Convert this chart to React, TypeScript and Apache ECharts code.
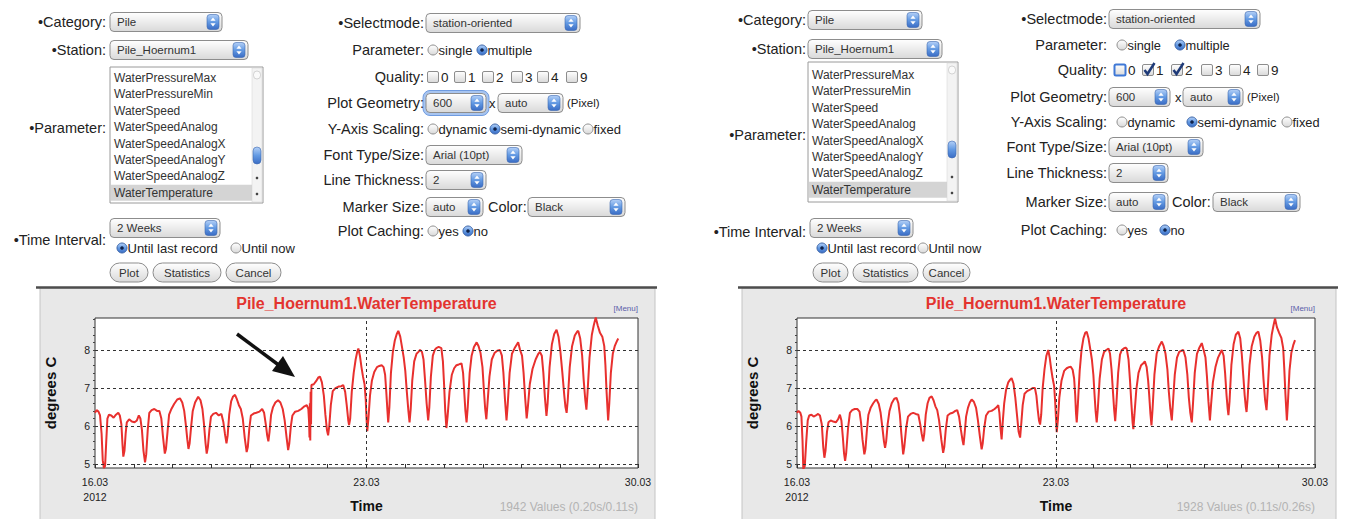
import React, { useEffect, useRef } from 'react';
import * as echarts from 'echarts';

const FONT = '"Liberation Sans", Arial, Helvetica, sans-serif';

// ---------------- data ----------------
const chartTitle = 'Pile_Hoernum1.WaterTemperature';
const leftInfo = '1942 Values (0.20s/0.11s)';
const rightInfo = '1928 Values (0.11s/0.26s)';
const parameterOptions = [
  'WaterPressureMax', 'WaterPressureMin', 'WaterSpeed', 'WaterSpeedAnalog',
  'WaterSpeedAnalogX', 'WaterSpeedAnalogY', 'WaterSpeedAnalogZ', 'WaterTemperature',
];
const selectedParameter = 7;
const xLabelDays = [16, 23, 30];
const xTickDays = [16, 17, 18, 19, 20, 21, 22, 23, 24, 25, 26, 27, 28, 29, 30];
const yLabelValues = [5, 6, 7, 8];
const yMinorTicks = [5.0, 5.2, 5.4, 5.6, 5.8, 6.0, 6.2, 6.4, 6.6, 6.8, 7.0, 7.2, 7.4, 7.6, 7.8, 8.0, 8.2, 8.4, 8.6, 8.8];
const gridValues = [5, 6, 7, 8];
const weekLine = 23;
const yMin = 4.9;
const yMax = 8.84;

// [day of March 2012, degrees C]
const leftTemperature = [
  [16.00, 6.35], [16.04, 6.42], [16.09, 6.38], [16.13, 6.28], [16.17, 5.80], [16.20, 5.10], [16.23, 4.90], [16.26, 4.95], [16.29, 5.60], [16.32, 6.20],
  [16.36, 6.30], [16.42, 6.28], [16.48, 6.22], [16.54, 6.30], [16.60, 6.35], [16.64, 6.28], [16.68, 6.05], [16.71, 5.50], [16.73, 5.20], [16.76, 5.35], [16.79, 5.80], [16.82, 6.10],
  [16.88, 6.18], [16.95, 6.12], [17.02, 6.10], [17.08, 6.15], [17.13, 6.28], [17.17, 6.20], [17.21, 5.90], [17.25, 5.35], [17.29, 5.05], [17.32, 5.25], [17.36, 5.90], [17.40, 6.35],
  [17.46, 6.42], [17.53, 6.45], [17.60, 6.40], [17.66, 6.40], [17.71, 6.20], [17.75, 5.75], [17.80, 5.28], [17.83, 5.40], [17.87, 5.85], [17.91, 6.30],
  [17.97, 6.45], [18.04, 6.58], [18.12, 6.70], [18.19, 6.73], [18.25, 6.62], [18.30, 6.40], [18.34, 6.05], [18.38, 5.65], [18.41, 5.40], [18.44, 5.55], [18.48, 6.00], [18.52, 6.40],
  [18.58, 6.62], [18.66, 6.77], [18.72, 6.68], [18.77, 6.45], [18.81, 6.05], [18.85, 5.55], [18.88, 5.28], [18.91, 5.45], [18.95, 5.90], [18.99, 6.25],
  [19.05, 6.32], [19.12, 6.35], [19.19, 6.28], [19.26, 6.32], [19.31, 6.10], [19.35, 5.80], [19.39, 5.55], [19.42, 5.75], [19.46, 6.30],
  [19.51, 6.65], [19.56, 6.78], [19.61, 6.82], [19.66, 6.70], [19.71, 6.55], [19.76, 6.45], [19.81, 6.20], [19.86, 5.70], [19.91, 5.32], [19.94, 5.45], [19.98, 5.95], [20.02, 6.28],
  [20.09, 6.33], [20.16, 6.35], [20.24, 6.38], [20.31, 6.45], [20.36, 6.35], [20.41, 6.00], [20.44, 5.75], [20.47, 5.60], [20.50, 5.85], [20.54, 6.30],
  [20.59, 6.50], [20.65, 6.62], [20.72, 6.68], [20.78, 6.62], [20.84, 6.45], [20.89, 6.15], [20.94, 5.70], [20.98, 5.37], [21.01, 5.55], [21.05, 6.00], [21.09, 6.28],
  [21.16, 6.38], [21.24, 6.40], [21.32, 6.45], [21.40, 6.52], [21.46, 6.55], [21.50, 6.45], [21.52, 6.10], [21.53, 5.70], [21.54, 6.60], [21.55, 5.62], [21.56, 6.90], [21.57, 6.05], [21.58, 7.08],
  [21.64, 7.10], [21.70, 7.18], [21.76, 7.28], [21.80, 7.30], [21.85, 7.15], [21.90, 6.80], [21.94, 6.30], [21.98, 5.90], [22.01, 5.76], [22.04, 6.00], [22.08, 6.55], [22.13, 6.92],
  [22.20, 7.00], [22.28, 7.04], [22.35, 7.05], [22.40, 7.08], [22.45, 6.90], [22.49, 6.55], [22.53, 6.15], [22.55, 6.03], [22.58, 6.20],
  [22.62, 6.90], [22.67, 7.40], [22.72, 7.75], [22.76, 7.95], [22.79, 8.04], [22.83, 7.85], [22.87, 7.55], [22.91, 7.30], [22.95, 7.10], [22.98, 6.70], [23.00, 6.20], [23.02, 5.87], [23.05, 6.20],
  [23.09, 6.80], [23.14, 7.20], [23.20, 7.42], [23.27, 7.55], [23.33, 7.58], [23.39, 7.60], [23.44, 7.55], [23.48, 7.35], [23.51, 6.90], [23.54, 6.40], [23.56, 6.10], [23.59, 6.50],
  [23.63, 7.40], [23.68, 7.95], [23.73, 8.25], [23.78, 8.42], [23.82, 8.50], [23.87, 8.35], [23.92, 8.05], [23.96, 7.80], [24.00, 7.45], [24.04, 6.90], [24.08, 6.40], [24.11, 6.10], [24.14, 6.45],
  [24.18, 7.20], [24.23, 7.70], [24.29, 7.90], [24.34, 7.95], [24.38, 8.00], [24.43, 7.95], [24.47, 7.75], [24.51, 7.20], [24.55, 6.60], [24.59, 6.15], [24.62, 6.50],
  [24.66, 7.30], [24.71, 7.85], [24.76, 8.00], [24.80, 8.05], [24.86, 8.08], [24.93, 8.05], [24.97, 7.70], [25.00, 7.10], [25.03, 6.40], [25.06, 5.95], [25.09, 6.25],
  [25.14, 6.90], [25.20, 7.35], [25.26, 7.52], [25.32, 7.60], [25.38, 7.62], [25.45, 7.65], [25.49, 7.40], [25.52, 6.90], [25.55, 6.40], [25.58, 6.10], [25.61, 6.50],
  [25.66, 7.40], [25.71, 7.85], [25.77, 8.08], [25.84, 8.20], [25.89, 8.10], [25.94, 7.92], [25.99, 7.55], [26.03, 6.90], [26.06, 6.45], [26.09, 6.18], [26.12, 6.60],
  [26.17, 7.30], [26.23, 7.75], [26.30, 7.92], [26.37, 7.98], [26.44, 8.00], [26.49, 7.85], [26.53, 7.40], [26.57, 6.70], [26.61, 6.15], [26.64, 6.55],
  [26.69, 7.40], [26.75, 7.90], [26.82, 8.05], [26.88, 8.15], [26.91, 8.20], [26.96, 8.00], [27.01, 7.85], [27.05, 7.40], [27.09, 6.75], [27.13, 6.20], [27.16, 6.50],
  [27.21, 7.10], [27.28, 7.50], [27.36, 7.75], [27.43, 7.90], [27.47, 7.95], [27.52, 7.85], [27.56, 7.40], [27.60, 6.75], [27.64, 6.27], [27.67, 6.60],
  [27.72, 7.55], [27.78, 8.15], [27.84, 8.42], [27.90, 8.53], [27.95, 8.35], [28.00, 7.95], [28.05, 7.40], [28.10, 6.80], [28.13, 6.50], [28.16, 6.35], [28.19, 6.70],
  [28.24, 7.55], [28.30, 8.10], [28.37, 8.38], [28.43, 8.48], [28.46, 8.50], [28.51, 8.30], [28.56, 7.85], [28.60, 7.20], [28.64, 6.70], [28.67, 6.43], [28.70, 6.90],
  [28.75, 7.80], [28.81, 8.40], [28.86, 8.65], [28.91, 8.85], [28.96, 8.65], [29.02, 8.45], [29.08, 8.35], [29.13, 8.10], [29.16, 7.60], [29.19, 6.90], [29.23, 6.15], [29.26, 6.60],
  [29.30, 7.40], [29.35, 7.90], [29.40, 8.10], [29.45, 8.22], [29.49, 8.30],
];

const rightTemperature = [
  [16.00, 6.35], [16.04, 6.40], [16.09, 6.35], [16.12, 6.25], [16.15, 5.60], [16.17, 4.87], [16.21, 4.95], [16.25, 5.60], [16.29, 6.15], [16.33, 6.28],
  [16.39, 6.30], [16.45, 6.25], [16.51, 6.28], [16.57, 6.32], [16.62, 6.28], [16.67, 6.05], [16.71, 5.45], [16.74, 5.17], [16.77, 5.35], [16.81, 5.85], [16.85, 6.10],
  [16.91, 6.15], [16.98, 6.12], [17.05, 6.10], [17.11, 6.18], [17.16, 6.30], [17.20, 6.15], [17.24, 5.70], [17.27, 5.30], [17.30, 5.09], [17.33, 5.30], [17.38, 5.95], [17.43, 6.35],
  [17.49, 6.42], [17.56, 6.45], [17.63, 6.45], [17.69, 6.38], [17.73, 6.10], [17.77, 5.65], [17.82, 5.26], [17.85, 5.40], [17.89, 5.90], [17.93, 6.30],
  [17.99, 6.48], [18.06, 6.60], [18.12, 6.68], [18.15, 6.70], [18.21, 6.58], [18.26, 6.35], [18.31, 5.95], [18.35, 5.60], [18.38, 5.43], [18.41, 5.60], [18.45, 6.05], [18.50, 6.40],
  [18.56, 6.60], [18.63, 6.72], [18.69, 6.74], [18.74, 6.60], [18.78, 6.30], [18.82, 5.80], [18.87, 5.26], [18.90, 5.45], [18.95, 5.95], [19.00, 6.25],
  [19.07, 6.32], [19.14, 6.35], [19.21, 6.32], [19.28, 6.30], [19.33, 6.05], [19.37, 5.80], [19.41, 5.60], [19.44, 5.80], [19.48, 6.30],
  [19.53, 6.60], [19.58, 6.74], [19.64, 6.78], [19.69, 6.68], [19.74, 6.52], [19.79, 6.42], [19.84, 6.15], [19.90, 5.65], [19.95, 5.30], [19.98, 5.45], [20.02, 5.90], [20.07, 6.28],
  [20.14, 6.33], [20.21, 6.35], [20.28, 6.40], [20.33, 6.42], [20.38, 6.25], [20.43, 5.90], [20.47, 5.65], [20.50, 5.50], [20.53, 5.80], [20.57, 6.25],
  [20.62, 6.48], [20.67, 6.62], [20.72, 6.70], [20.78, 6.64], [20.84, 6.48], [20.89, 6.15], [20.94, 5.75], [20.99, 5.39], [21.02, 5.55], [21.06, 5.95], [21.11, 6.28],
  [21.18, 6.38], [21.26, 6.40], [21.34, 6.45], [21.40, 6.50], [21.44, 6.55], [21.47, 6.35], [21.50, 5.95], [21.53, 5.65], [21.56, 6.10], [21.60, 6.60],
  [21.65, 6.95], [21.71, 7.15], [21.76, 7.22], [21.80, 7.26], [21.85, 7.12], [21.90, 6.75], [21.95, 6.25], [21.99, 5.85], [22.03, 5.70], [22.06, 6.05], [22.10, 6.55], [22.15, 6.85],
  [22.22, 6.92], [22.30, 6.96], [22.37, 7.00], [22.43, 7.00], [22.47, 6.80], [22.51, 6.40], [22.54, 6.15], [22.57, 6.04], [22.60, 6.30],
  [22.64, 7.00], [22.69, 7.50], [22.74, 7.85], [22.79, 8.00], [22.83, 7.80], [22.87, 7.50], [22.91, 7.25], [22.95, 7.05], [22.98, 6.60], [23.00, 6.20], [23.02, 5.84], [23.05, 6.15],
  [23.09, 6.75], [23.15, 7.20], [23.22, 7.45], [23.29, 7.52], [23.35, 7.55], [23.40, 7.56], [23.45, 7.48], [23.49, 7.25], [23.52, 6.80], [23.54, 6.35], [23.56, 6.10], [23.59, 6.55],
  [23.64, 7.45], [23.69, 8.00], [23.74, 8.30], [23.79, 8.45], [23.83, 8.48], [23.88, 8.30], [23.93, 8.00], [23.97, 7.75], [24.01, 7.35], [24.04, 6.85], [24.07, 6.40], [24.10, 6.10], [24.13, 6.45],
  [24.18, 7.25], [24.24, 7.75], [24.30, 7.95], [24.36, 8.00], [24.42, 8.04], [24.46, 7.90], [24.50, 7.50], [24.54, 6.90], [24.57, 6.45], [24.60, 6.13], [24.63, 6.55],
  [24.68, 7.40], [24.73, 7.88], [24.78, 8.00], [24.83, 8.04], [24.88, 8.06], [24.91, 8.04], [24.96, 7.75], [25.00, 7.20], [25.04, 6.55], [25.07, 6.10], [25.09, 5.92], [25.12, 6.30],
  [25.17, 6.95], [25.23, 7.40], [25.30, 7.60], [25.36, 7.65], [25.40, 7.70], [25.45, 7.55], [25.49, 7.20], [25.52, 6.80], [25.55, 6.35], [25.58, 6.02], [25.61, 6.45],
  [25.66, 7.35], [25.72, 7.90], [25.79, 8.10], [25.86, 8.22], [25.91, 8.10], [25.96, 7.90], [26.01, 7.50], [26.05, 6.90], [26.09, 6.45], [26.13, 6.15], [26.16, 6.60],
  [26.21, 7.35], [26.27, 7.80], [26.33, 7.95], [26.39, 7.98], [26.44, 8.00], [26.50, 7.80], [26.55, 7.35], [26.59, 6.75], [26.63, 6.35], [26.67, 6.10], [26.70, 6.55],
  [26.75, 7.40], [26.81, 7.90], [26.87, 8.05], [26.94, 8.18], [26.99, 8.00], [27.04, 7.80], [27.08, 7.30], [27.12, 6.65], [27.16, 6.15], [27.19, 6.55],
  [27.24, 7.15], [27.31, 7.55], [27.38, 7.80], [27.44, 7.92], [27.48, 8.00], [27.53, 7.85], [27.57, 7.40], [27.61, 6.80], [27.64, 6.45], [27.66, 6.29], [27.69, 6.65],
  [27.74, 7.60], [27.80, 8.15], [27.86, 8.40], [27.93, 8.48], [27.98, 8.30], [28.02, 7.90], [28.06, 7.35], [28.10, 6.80], [28.13, 6.50], [28.15, 6.37], [28.18, 6.75],
  [28.23, 7.60], [28.29, 8.10], [28.36, 8.35], [28.42, 8.45], [28.47, 8.48], [28.52, 8.25], [28.57, 7.80], [28.61, 7.20], [28.65, 6.70], [28.69, 6.42], [28.72, 6.90],
  [28.77, 7.85], [28.83, 8.40], [28.88, 8.65], [28.92, 8.83], [28.97, 8.60], [29.03, 8.45], [29.09, 8.32], [29.14, 8.05], [29.17, 7.50], [29.20, 6.85], [29.24, 6.15], [29.27, 6.65],
  [29.31, 7.45], [29.36, 7.92], [29.41, 8.12], [29.46, 8.26],
];

// ---------------- UI widgets (graphic) ----------------
const gradWhite = {
  type: 'linear', x: 0, y: 0, x2: 0, y2: 1,
  colorStops: [{ offset: 0, color: '#ffffff' }, { offset: 1, color: '#d9d9d9' }],
};
const gradBlue = {
  type: 'linear', x: 0, y: 0, x2: 0, y2: 1,
  colorStops: [{ offset: 0, color: '#b4d0f7' }, { offset: 0.5, color: '#639ae3' }, { offset: 1, color: '#3a6cc4' }],
};

function text(x: number, y: number, s: string, o: any = {}) {
  const align = o.align ?? 'left';
  return {
    type: 'text', x, y, z: o.z ?? 5, rotation: o.rotation ?? 0,
    style: {
      text: s, fill: o.color ?? '#222',
      font: `${o.style ?? 'normal'} ${o.weight ?? 'normal'} ${o.size ?? 14}px ${FONT}`,
      align, verticalAlign: 'middle', textAlign: align, textVerticalAlign: 'middle',
    },
  };
}

function select(x: number, cy: number, w: number, label: string, focus = false) {
  const h = 19;
  const y = cy - h / 2;
  const els: any[] = [];
  if (focus) {
    els.push({ type: 'rect', z: 4, shape: { x: x - 3, y: y - 3, width: w + 6, height: h + 6, r: 7 }, style: { fill: '#a8c5f0', stroke: '#6f9be0', lineWidth: 1 } });
  }
  els.push({ type: 'rect', z: 5, shape: { x, y, width: w, height: h, r: 4 }, style: { fill: gradWhite, stroke: '#8d8d8d', lineWidth: 1 } });
  const bx = x + w - 15;
  els.push({ type: 'rect', z: 6, shape: { x: bx, y: y + 2, width: 12, height: h - 4, r: 3 }, style: { fill: gradBlue, stroke: '#3d68b0', lineWidth: 0.6 } });
  const ax = bx + 6;
  els.push({ type: 'polygon', z: 7, shape: { points: [[ax - 2.6, cy - 1.2], [ax + 2.6, cy - 1.2], [ax, cy - 4.6]] }, style: { fill: '#fff' } });
  els.push({ type: 'polygon', z: 7, shape: { points: [[ax - 2.6, cy + 1.2], [ax + 2.6, cy + 1.2], [ax, cy + 4.6]] }, style: { fill: '#fff' } });
  els.push(text(x + 7, cy, label, { size: 11.5, color: '#333', z: 7 }));
  return els;
}

function radio(cx: number, cy: number, on: boolean, label: string, size: number) {
  const els: any[] = [{ type: 'circle', z: 5, shape: { cx, cy, r: 5 }, style: { fill: on ? gradBlue : gradWhite, stroke: on ? '#3a64a8' : '#8d8d8d', lineWidth: 1 } }];
  if (on) els.push({ type: 'circle', z: 6, shape: { cx, cy, r: 1.8 }, style: { fill: '#10224a' } });
  els.push(text(cx + 5.5, cy, label, { size }));
  return els;
}

function checkbox(cx: number, cy: number, state: string, label: string) {
  const x = cx - 5.5;
  const els: any[] = [{
    type: 'rect', z: 5, shape: { x, y: cy - 5.5, width: 11, height: 11, r: 1.5 },
    style: { fill: gradWhite, stroke: state === 'focus' ? '#3f78d6' : '#8d8d8d', lineWidth: state === 'focus' ? 2 : 1 },
  }];
  if (state === 'on') {
    els.push({ type: 'polyline', z: 6, shape: { points: [[x + 2, cy], [x + 5, cy + 4], [x + 12, cy - 7]] }, style: { stroke: '#1e3a78', lineWidth: 2.5, fill: null } });
  }
  els.push(text(cx + 8, cy, label, { size: 13.5 }));
  return els;
}

function button(x: number, y: number, w: number, label: string) {
  const h = 19;
  return [
    { type: 'rect', z: 5, shape: { x, y, width: w, height: h, r: h / 2 }, style: { fill: gradWhite, stroke: '#8d8d8d', lineWidth: 1 } },
    text(x + w / 2, y + h / 2, label, { size: 11.5, align: 'center', color: '#333', z: 6 }),
  ];
}

function listbox(x: number, y: number, w: number, h: number, first: number, step: number, thumbY: number) {
  const els: any[] = [{ type: 'rect', z: 5, shape: { x, y, width: w, height: h }, style: { fill: '#fff', stroke: '#9a9a9a', lineWidth: 1 } }];
  els.push({ type: 'rect', z: 6, shape: { x: x + 1, y: first + selectedParameter * step - 8, width: w - 12, height: 16 }, style: { fill: '#d4d4d4' } });
  parameterOptions.forEach((s, i) => els.push(text(x + 4, first + i * step, s, { size: 12, color: '#333', z: 7 })));
  const sx = x + w - 11;
  els.push({ type: 'rect', z: 6, shape: { x: sx, y: y + 1, width: 10, height: h - 2 }, style: { fill: '#f3f3f3', stroke: '#d0d0d0', lineWidth: 0.5 } });
  els.push({ type: 'rect', z: 7, shape: { x: sx + 1.5, y: y + 4, width: 7, height: 8, r: 3.5 }, style: { fill: '#fafafa', stroke: '#bbb', lineWidth: 0.6 } });
  els.push({ type: 'rect', z: 7, shape: { x: sx + 1, y: thumbY, width: 8, height: 17, r: 4 }, style: { fill: gradBlue, stroke: '#3d68b0', lineWidth: 0.6 } });
  els.push({ type: 'circle', z: 7, shape: { cx: sx + 5, cy: y + h - 25, r: 1.3 }, style: { fill: '#444' } });
  els.push({ type: 'circle', z: 7, shape: { cx: sx + 5, cy: y + h - 9, r: 1.3 }, style: { fill: '#444' } });
  return els;
}

function panelForm(p: any) {
  const e: any[] = [];
  const lab = (x: number, y: number, s: string) => e.push(text(x, y, s, { size: 14.5, align: 'right', color: '#222' }));
  const rf = p.rf;
  // left column
  lab(p.lx, p.catY, '•Category:');
  e.push(...select(p.cx, p.catY, p.catW, 'Pile'));
  lab(p.lx, p.stY, '•Station:');
  e.push(...select(p.cx, p.stY, p.stW, 'Pile_Hoernum1'));
  e.push(...listbox(p.cx, p.listY, p.listW, p.listH, p.first, p.step, p.thumb));
  lab(p.lx, p.paramY, '•Parameter:');
  e.push(...select(p.weeksX, p.weeksY, p.weeksW, '2 Weeks'));
  lab(p.lx, p.timeY, '•Time Interval:');
  e.push(...radio(p.r1, p.radioY, true, 'Until last record', rf));
  e.push(...radio(p.r2, p.radioY, false, 'Until now', rf));
  e.push(...button(p.btns[0][0], p.btnY, p.btns[0][1], 'Plot'));
  e.push(...button(p.btns[1][0], p.btnY, p.btns[1][1], 'Statistics'));
  e.push(...button(p.btns[2][0], p.btnY, p.btns[2][1], 'Cancel'));
  // right column
  lab(p.rx, p.selY, '•Selectmode:');
  e.push(...select(p.rc, p.selY, p.selW, 'station-oriented'));
  lab(p.rx, p.parY, 'Parameter:');
  e.push(...radio(p.parR[0], p.parY, false, 'single', rf));
  e.push(...radio(p.parR[1], p.parY, true, 'multiple', rf));
  lab(p.rx, p.qY, 'Quality:');
  ['0', '1', '2', '3', '4', '9'].forEach((d, i) => e.push(...checkbox(p.qX[i], p.qY, p.qS[i], d)));
  lab(p.rx, p.geoY, 'Plot Geometry:');
  e.push(...select(p.rc, p.geoY, p.geoW, '600', p.geoFocus));
  e.push(text(p.geoXX, p.geoY, 'x', { size: 13 }));
  e.push(...select(p.autoX, p.geoY, p.autoW, 'auto'));
  e.push(text(p.pixelX, p.geoY, '(Pixel)', { size: 11.5 }));
  lab(p.rx, p.yY, 'Y-Axis Scaling:');
  e.push(...radio(p.yR[0], p.yY, false, 'dynamic', rf));
  e.push(...radio(p.yR[1], p.yY, true, 'semi-dynamic', rf));
  e.push(...radio(p.yR[2], p.yY, false, 'fixed', rf));
  lab(p.rx, p.fontY, 'Font Type/Size:');
  e.push(...select(p.rc, p.fontY, p.fontW, 'Arial (10pt)'));
  lab(p.rx, p.lineY, 'Line Thickness:');
  e.push(...select(p.rc, p.lineY, p.lineW, '2'));
  lab(p.rx, p.markY, 'Marker Size:');
  e.push(...select(p.rc, p.markY, p.markW, 'auto'));
  e.push(text(p.colorX, p.markY, 'Color:', { size: 14.5 }));
  e.push(...select(p.blackX, p.markY, p.blackW, 'Black'));
  lab(p.rx, p.cacheY, 'Plot Caching:');
  e.push(...radio(p.cacheR[0], p.cacheY, false, 'yes', rf));
  e.push(...radio(p.cacheR[1], p.cacheY, true, 'no', rf));
  return e;
}

const leftLayout = {
  rf: 13,
  lx: 106, cx: 110, catY: 22, catW: 112, stY: 50, stW: 138,
  listY: 67, listW: 153, listH: 136, first: 78, step: 16.4, thumb: 147,
  paramY: 128, weeksX: 110, weeksY: 228, weeksW: 110, timeY: 240, radioY: 248, r1: 122, r2: 236,
  btnY: 263, btns: [[110, 38], [153, 68], [226, 55]],
  rx: 424, rc: 426, selY: 23, selW: 154, parY: 50, parR: [433, 482],
  qY: 77, qX: [433, 460, 488, 517, 543, 572], qS: ['off', 'off', 'off', 'off', 'off', 'off'],
  geoY: 103, geoW: 60, geoFocus: true, geoXX: 489, autoX: 498, autoW: 65, pixelX: 567,
  yY: 129, yR: [433, 495, 588], fontY: 155, fontW: 96, lineY: 180, lineW: 60,
  markY: 207, markW: 57, colorX: 488, blackX: 528, blackW: 97, cacheY: 231, cacheR: [433, 468],
};
const rightLayout = {
  rf: 12.8,
  lx: 806, cx: 808, catY: 20, catW: 114, stY: 49, stW: 134,
  listY: 62, listW: 150, listH: 140, first: 75, step: 16.4, thumb: 141,
  paramY: 135, weeksX: 810, weeksY: 228, weeksW: 103, timeY: 232, radioY: 248, r1: 822, r2: 923,
  btnY: 263, btns: [[813, 35], [853, 65], [923, 47]],
  rx: 1107, rc: 1109, selY: 19, selW: 151, parY: 45, parR: [1122, 1180],
  qY: 70, qX: [1120, 1148, 1177, 1207, 1235, 1263], qS: ['focus', 'on', 'on', 'off', 'off', 'off'],
  geoY: 97, geoW: 61, geoFocus: false, geoXX: 1175, autoX: 1183, autoW: 60, pixelX: 1247,
  yY: 122, yR: [1122, 1192, 1287], fontY: 147, fontW: 94, lineY: 173, lineW: 59,
  markY: 202, markW: 59, colorX: 1172, blackX: 1213, blackW: 87, cacheY: 230, cacheR: [1122, 1165],
};

function chartFrame(x1: number, x2: number, plotL: number, plotR: number, info: string) {
  const cx = (plotL + plotR) / 2;
  return [
    { type: 'rect', z: -10, shape: { x: x1, y: 288, width: x2 - x1, height: 240 }, style: { fill: '#e8e8e8', stroke: '#c4c4c4', lineWidth: 1 } },
    { type: 'line', z: -9, shape: { x1: x1 - 4, y1: 287.5, x2: x2 + 2, y2: 287.5 }, style: { stroke: '#4d4d4d', lineWidth: 2.5 } },
    text(cx, 303, chartTitle, { size: 16, weight: 'bold', color: '#e3342f', align: 'center' }),
    text(plotR, 308, '[Menu]', { size: 8, color: '#5a60a8', align: 'right' }),
    text(plotR, 507, info, { size: 12, color: '#b3b3b3', align: 'right' }),
  ];
}

const arrow = [
  { type: 'line', z: 20, shape: { x1: 237, y1: 334, x2: 280, y2: 366 }, style: { stroke: '#111', lineWidth: 3.5 } },
  { type: 'polygon', z: 20, shape: { points: [[295, 377], [272, 371], [283, 356]] }, style: { fill: '#111' } },
];

// ---------------- chart axes/series ----------------
const grids = [
  { left: 95, top: 318, width: 543, height: 150 },
  { left: 797, top: 318, width: 518, height: 150 },
];

function xAxisFor(i: number) {
  return {
    type: 'value', gridIndex: i, min: 16, max: 30,
    axisLine: { show: false },
    axisTick: { show: true, customValues: xTickDays, inside: true, length: 4, lineStyle: { color: '#333' } },
    axisLabel: {
      customValues: xLabelDays, fontSize: 10.5, color: '#222', margin: 6, lineHeight: 15, fontFamily: FONT,
      formatter: (v: number) => (v === 16 ? '16.03\n2012' : `${v}.03`),
    },
    splitLine: { show: false },
    name: 'Time', nameLocation: 'middle', nameGap: 31, nameMoveOverlap: false,
    nameTextStyle: { fontWeight: 'bold', fontSize: 14, color: '#111', fontFamily: FONT },
  };
}
function yAxisFor(i: number) {
  return {
    type: 'value', gridIndex: i, min: yMin, max: yMax,
    axisLine: { show: false },
    axisTick: { show: true, customValues: yMinorTicks, inside: false, length: 2, lineStyle: { color: '#444' } },
    axisLabel: { customValues: yLabelValues, fontSize: 10.5, color: '#222', margin: 5, fontFamily: FONT },
    splitLine: { show: false },
    name: 'degrees C', nameLocation: 'middle', nameGap: 37, nameRotate: 90, nameMoveOverlap: false,
    nameTextStyle: { fontWeight: 'bold', fontSize: 15, color: '#111', fontFamily: FONT },
  };
}

function gridSeries(i: number) {
  return {
    type: 'line', xAxisIndex: i, yAxisIndex: i, data: [], z: 1, silent: true,
    markLine: {
      silent: true, symbol: ['none', 'none'], label: { show: false },
      lineStyle: { color: '#333', type: [3, 3], width: 1 },
      data: [...gridValues.map((v) => ({ yAxis: v })), { xAxis: weekLine }],
    },
  };
}
function tempSeries(i: number, data: number[][]) {
  return {
    type: 'line', xAxisIndex: i, yAxisIndex: i, data, z: 3,
    showSymbol: false, symbol: 'none',
    lineStyle: { color: '#e8302e', width: 2 },
  };
}

const option: any = {
  animation: false,
  backgroundColor: '#ffffff',
  grid: grids.map((g) => ({ ...g, show: true, backgroundColor: '#ffffff', borderColor: '#333', borderWidth: 1, containLabel: false })),
  xAxis: [xAxisFor(0), xAxisFor(1)],
  yAxis: [yAxisFor(0), yAxisFor(1)],
  series: [gridSeries(0), gridSeries(1), tempSeries(0, leftTemperature), tempSeries(1, rightTemperature)],
  graphic: {
    elements: [
      ...chartFrame(40, 655, 95, 638, leftInfo),
      ...chartFrame(742, 1336, 797, 1315, rightInfo),
      ...panelForm(leftLayout),
      ...panelForm(rightLayout),
      ...arrow,
    ],
  },
};

export default function App() {
  const ref = useRef<HTMLDivElement>(null);
  useEffect(() => {
    const chart = echarts.init(ref.current as HTMLDivElement, null, { renderer: 'svg' });
    chart.setOption(option);
    return () => chart.dispose();
  }, []);
  return (
    <div
      ref={ref}
      style={{ position: 'fixed', left: 0, top: 0, width: 1345, height: 519, background: '#fff' }}
    />
  );
}
